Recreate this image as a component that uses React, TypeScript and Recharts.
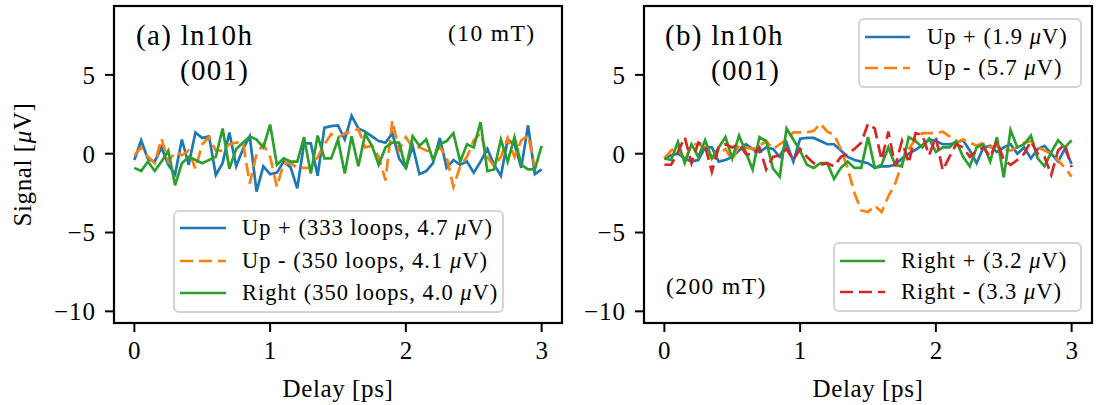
import React from 'react';
import { LineChart, Line, XAxis, YAxis, Legend } from 'recharts';

const DELAY = [0, 0.05, 0.1, 0.15, 0.2, 0.25, 0.3, 0.35, 0.4, 0.45, 0.5, 0.55, 0.6, 0.65, 0.7, 0.75, 0.8, 0.85, 0.9, 0.95, 1, 1.05, 1.1, 1.15, 1.2, 1.25, 1.3, 1.35, 1.4, 1.45, 1.5, 1.55, 1.6, 1.65, 1.7, 1.75, 1.8, 1.85, 1.9, 1.95, 2, 2.05, 2.1, 2.15, 2.2, 2.25, 2.3, 2.35, 2.4, 2.45, 2.5, 2.55, 2.6, 2.65, 2.7, 2.75, 2.8, 2.85, 2.9, 2.95, 3];

const A_UP_PLUS = [
  -0.4, 0.85, -0.35, -0.5, 0.4, -0.7, -1.3, 0.9, -0.7, 1.35,
  1.0, 1.1, -1.35, -0.6, 1.35, -0.8, 0.3, 1.1, -2.4, -0.8,
  -1.3, -1.2, -0.5, -0.85, -2.2, 0.65, 0.65, -1.4, 1.65, 1.75,
  1.8, 0.9, 2.4, 1.6, 1.4, 1.1, 0.8, 0.7, 1.3, -0.3,
  -0.9, 0.5, -1.3, -1.1, -0.6, 1.0, -0.9, -0.4, -0.7, -0.5,
  -1.2, -0.5, 0.3, -0.7, -1.4, 0.9, 0.6, -0.9, 1.8, -1.3,
  -1.0,
];
const A_UP_MINUS = [
  -0.1, 0.4, -0.2, -0.6, 0.95, -0.5, 0.1, -0.1, 0.2, -0.95,
  0.6, 1.05, 0.2, 0.2, 0.6, 0.7, 0.7, -1.9, 0.0, 0.6,
  -0.2, -2.1, -0.6, -0.6, -0.9, -0.9, -0.9, -0.2, 0.6, 1.25,
  1.0, 1.3, 1.4, 1.55, 0.4, 0.5, -0.2, -1.7, 2.1, 0.2,
  1.05, 0.4, 0.4, 0.2, 0.1, 0.4, -0.2, -2.1, -0.8, -0.2,
  0.85, 1.3, -0.2, -0.8, -0.2, 1.0, -0.2, 0.85, 1.15, -0.8,
  null,
];
const A_RIGHT = [
  -0.9, -1.1, -0.5, -1.1, -0.5, 0.2, -2.0, -0.6, -0.2, -0.4,
  -0.6, -0.4, -0.2, 1.6, -0.95, 0.3, 0.7, 1.1, 0.9, 0.4,
  1.85, -0.7, -0.3, -0.5, -0.5, 1.05, -1.25, 1.15, -0.3, -0.3,
  0.9, -1.25, 1.1, -0.8, 1.25, 0.5, -0.7, 0.4, 0.7, 0.7,
  -0.95, 1.1, 0.5, 0.9, -0.4, 0.6, 0.8, 1.3, -0.5, 0.6,
  0.4, 2.0, -1.1, -1.0, 0.9, -0.5, 1.05, -0.7, -1.0, -1.0,
  0.5,
];

const B_UP_PLUS = [
  -0.3, -0.1, 0.0, -0.3, -0.5, -0.4, 0.4, 0.4, -0.5, -0.4,
  -0.2, 0.2, 0.6, 0.3, 0.1, 0.4, 0.3, -0.2, 0.7, -0.5,
  0.95, 1.0, 1.0, 0.8, 0.6, 0.6, 0.2, -0.2, -0.4, -0.5,
  -0.6, -0.9, -0.8, -0.8, -0.7, -0.3, 0.0, 0.25, 0.55, 0.9,
  0.8, 0.6, 0.6, 0.7, 0.85, 0.2, -0.6, 0.4, 0.5, 0.1,
  0.4, 0.6, 0.0, 0.4, -0.3, 0.3, 0.5, 0.0, -0.5, 0.3,
  -0.65,
];
const B_UP_MINUS = [
  -0.3, 0.2, 0.5, -0.5, 0.6, 0.6, 0.4, -0.3, 0.0, 0.3,
  -0.4, 0.6, 0.4, 0.3, 0.5, 0.8, 0.3, 0.6, 0.9, 1.35,
  1.35, 1.35, 1.45, 1.9, 1.4, 1.2, 0.3, -0.9, -2.5, -3.6,
  -3.7, -3.3, -3.7, -2.7, -1.9, -0.6, 0.3, 0.9, 1.3, 1.3,
  1.3, 1.4, 1.1, 0.7, 0.9, 0.7, 0.5, 0.7, 0.4, 0.5,
  0.3, 0.2, 0.4, 0.7, 0.8, 0.4, 0.2, 0.0, -0.4, -0.9,
  -1.45,
];
const B_RIGHT_PLUS = [
  -0.3, -0.4, 0.75, -0.6, 0.6, -0.2, 0.85, -0.3, 0.4, 1.05,
  -0.3, 1.15, 0.1, -1.0, 1.05, 0.8, -0.95, -1.45, 1.6, 0.9,
  0.2, -0.7, -0.9, -0.6, -0.6, -1.6, -0.9, -0.5, -0.9, -0.9,
  1.05, -0.9, -0.7, 0.4, -0.7, -0.8, 1.05, 0.8, 0.4, 0.95,
  0.1, 0.4, 0.4, 0.8, -0.2, -0.8, 0.4, 0.6, -0.5, 1.05,
  -1.5, 1.5, 0.4, 0.6, 1.15, -0.3, -0.8, 0.1, 0.85, 0.4,
  0.85,
];
const B_RIGHT_MINUS = [
  -0.7, -0.7, 0.1, 1.05, -0.6, 0.7, 0.5, -1.15, 0.4, 0.6,
  0.4, 0.6, 0.0, -0.1, 0.4, -1.0, -0.2, -0.1, 0.3, -0.4,
  0.3, -0.2, -0.6, -0.7, -0.6, -0.8, -0.2, 0.0, 0.3, 0.7,
  1.9, 1.6, -0.4, 1.4, -0.8, 0.8, -0.6, 1.3, 1.2, -0.1,
  1.05, -1.05, -0.2, 0.6, 0.4, -0.2, 0.2, 0.4, -0.2, 0.8,
  -0.4, -0.7, -0.4, 0.0, 0.8, 0.0, -0.2, -1.35, 0.2, 0.6,
  -0.85,
];

const X_TICKS = [0, 1, 2, 3];
const Y_TICKS = [-10, -5, 0, 5];
const X_DOMAIN: [number, number] = [-0.15, 3.15];
const Y_DOMAIN: [number, number] = [-10.74, 9.37];

const BLUE = '#1f77b4';
const ORANGE = '#ff7f0e';
const GREEN = '#2ca02c';
const RED = '#d62728';
const DASH = '13 6';

type Series = { key: string; name: string; color: string; dash?: string; values: (number | null)[] };

const SERIES_A: Series[] = [
  { key: 'upPlus', name: 'Up + (333 loops, 4.7 μV)', color: BLUE, values: A_UP_PLUS },
  { key: 'upMinus', name: 'Up - (350 loops, 4.1 μV)', color: ORANGE, dash: DASH, values: A_UP_MINUS },
  { key: 'right', name: 'Right (350 loops, 4.0 μV)', color: GREEN, values: A_RIGHT },
];
const SERIES_B: Series[] = [
  { key: 'upPlus', name: 'Up + (1.9 μV)', color: BLUE, values: B_UP_PLUS },
  { key: 'upMinus', name: 'Up - (5.7 μV)', color: ORANGE, dash: DASH, values: B_UP_MINUS },
  { key: 'rightPlus', name: 'Right + (3.2 μV)', color: GREEN, values: B_RIGHT_PLUS },
  { key: 'rightMinus', name: 'Right - (3.3 μV)', color: RED, dash: DASH, values: B_RIGHT_MINUS },
];

const FONT = "'Liberation Serif', 'DejaVu Serif', serif";

const CHART_H = 405;
const MARGIN_TOP = 6;
const X_AXIS_H = 82;
const LAYOUT_A = { left: 0, width: 580, yAxisWidth: 114, marginRight: 18 };
const LAYOUT_B = { left: 580, width: 519, yAxisWidth: 64, marginRight: 7 };

const buildRows = (series: Series[]) =>
  DELAY.map((x, i) => {
    const r: Record<string, number | null> = { x };
    series.forEach((s) => {
      r[s.key] = s.values[i];
    });
    return r;
  });

const fmt = (v: number) => (v < 0 ? '\u2212' + Math.abs(v) : String(v));

function withMu(text: string) {
  const parts = text.split('μ');
  return parts.map((p, i) => (
    <React.Fragment key={i}>
      {i > 0 && <i>μ</i>}
      {p}
    </React.Fragment>
  ));
}

type BoxOpts = { width: number; rowH: number; padL: number; handleW: number; gap: number; padT: number; padB: number };

function makeLegend(series: Series[], keys: string[], o: BoxOpts) {
  return (props: any) => {
    const payload: any[] = props.payload || [];
    const items = keys.map((k) => {
      const meta = series.find((s) => s.key === k)!;
      const p = payload.find((e) => e.dataKey === k);
      return { meta, name: p ? p.value : meta.name, color: p ? p.color : meta.color };
    });
    return (
      <div
        style={{
          boxSizing: 'border-box',
          width: o.width,
          border: '2px solid #d4d4d4',
          borderRadius: 6,
          background: 'rgba(255,255,255,0.8)',
          paddingTop: o.padT,
          paddingBottom: o.padB,
          fontFamily: FONT,
          fontSize: 22.5,
          letterSpacing: 1,
          color: '#000',
          whiteSpace: 'nowrap',
        }}
      >
        {items.map((it) => (
          <div key={it.meta.key} style={{ height: o.rowH, display: 'flex', alignItems: 'center', paddingLeft: o.padL }}>
            <svg width={o.handleW} height={8} style={{ flex: 'none', marginRight: o.gap }}>
              <line x1={0} y1={4} x2={o.handleW} y2={4} stroke={it.color} strokeWidth={2.7} strokeDasharray={it.meta.dash} />
            </svg>
            <span style={{ lineHeight: 1 }}>{withMu(it.name)}</span>
          </div>
        ))}
      </div>
    );
  };
}

const axisStroke = { stroke: '#000', strokeWidth: 2 };

type Layout = { left: number; width: number; yAxisWidth: number; marginRight: number };
type PanelProps = { series: Series[]; layout: Layout; showYLabel: boolean; children?: React.ReactNode };

function Panel({ series, layout, showYLabel, children }: PanelProps) {
  const rows = buildRows(series);
  const { left, width, yAxisWidth, marginRight } = layout;
  return (
    <div style={{ position: 'absolute', left, top: 0, width, height: CHART_H }}>
      <LineChart width={width} height={CHART_H} data={rows} margin={{ top: MARGIN_TOP, right: marginRight, bottom: 0, left: 0 }}>
        <XAxis
          dataKey="x"
          type="number"
          domain={X_DOMAIN}
          ticks={X_TICKS}
          allowDataOverflow
          tickFormatter={fmt}
          height={X_AXIS_H}
          tickSize={9}
          tickMargin={9}
          axisLine={axisStroke}
          tickLine={axisStroke}
          tick={{ fill: '#000', fontSize: 25, fontFamily: FONT }}
          label={{
            position: 'center',
            content: (p: any) => {
              const vb = p.viewBox || {};
              return (
                <text x={vb.x + vb.width / 2} y={vb.y + 74} textAnchor="middle" fontSize={25} fontFamily={FONT} fill="#000" letterSpacing={0.6}>
                  Delay [ps]
                </text>
              );
            },
          }}
        />
        <YAxis
          type="number"
          domain={Y_DOMAIN}
          ticks={Y_TICKS}
          allowDataOverflow
          tickFormatter={fmt}
          width={yAxisWidth}
          tickSize={9}
          tickMargin={9}
          axisLine={axisStroke}
          tickLine={axisStroke}
          tick={{ fill: '#000', fontSize: 25, fontFamily: FONT, letterSpacing: 1 }}
          label={
            showYLabel
              ? {
                  position: 'center',
                  content: (p: any) => {
                    const vb = p.viewBox || {};
                    const cx = vb.x + 22;
                    const cy = vb.y + vb.height / 2;
                    return (
                      <text
                        x={cx}
                        y={cy}
                        transform={`rotate(-90, ${cx}, ${cy})`}
                        textAnchor="middle"
                        dominantBaseline="central"
                        fontSize={25}
                        fontFamily={FONT}
                        fill="#000"
                        letterSpacing={0.6}
                      >
                        Signal [<tspan fontStyle="italic">μ</tspan>V]
                      </text>
                    );
                  },
                }
              : undefined
          }
        />
        {series.map((s) => (
          <Line
            key={s.key}
            dataKey={s.key}
            name={s.name}
            type="linear"
            stroke={s.color}
            strokeWidth={2.7}
            strokeDasharray={s.dash}
            dot={false}
            activeDot={false}
            isAnimationActive={false}
          />
        ))}
        {children}
      </LineChart>
    </div>
  );
}

function frameRect(l: Layout) {
  return {
    x: l.left + l.yAxisWidth,
    y: MARGIN_TOP,
    width: l.width - l.yAxisWidth - l.marginRight,
    height: CHART_H - MARGIN_TOP - X_AXIS_H,
  };
}

const annot = { fontFamily: FONT, fill: '#000' };

export default function App() {
  return (
    <div style={{ position: 'absolute', left: 0, top: 0, width: 1099, height: 405, background: '#fff', fontFamily: FONT }}>
      <Panel series={SERIES_A} layout={LAYOUT_A} showYLabel>
        <Legend
          layout="vertical"
          align="center"
          verticalAlign="middle"
          wrapperStyle={{ left: 173, top: 210, width: 'auto', height: 'auto' }}
          content={makeLegend(SERIES_A, ['upPlus', 'upMinus', 'right'], { width: 331, rowH: 32.5, padL: 5, handleW: 46, gap: 16, padT: 0, padB: 1.5 })}
        />
      </Panel>
      <Panel series={SERIES_B} layout={LAYOUT_B} showYLabel={false}>
        <Legend
          layout="vertical"
          align="center"
          verticalAlign="middle"
          wrapperStyle={{ left: 278, top: 18, width: 'auto', height: 'auto' }}
          content={makeLegend(SERIES_B, ['upPlus', 'upMinus'], { width: 224, rowH: 31, padL: 5, handleW: 45, gap: 17, padT: 1.5, padB: 2.5 })}
        />
        <Legend
          layout="vertical"
          align="center"
          verticalAlign="middle"
          wrapperStyle={{ left: 253, top: 242, width: 'auto', height: 'auto' }}
          content={makeLegend(SERIES_B, ['rightPlus', 'rightMinus'], { width: 249, rowH: 31, padL: 5, handleW: 45, gap: 16, padT: 1.5, padB: 2.5 })}
        />
      </Panel>
      <svg width={1099} height={405} style={{ position: 'absolute', left: 0, top: 0, pointerEvents: 'none', zIndex: 5 }}>
        <rect {...frameRect(LAYOUT_A)} fill="none" stroke="#000000" strokeWidth={2.2} />
        <rect {...frameRect(LAYOUT_B)} fill="none" stroke="#000000" strokeWidth={2.2} />
        <text x={136} y={45} fontSize={29} letterSpacing={1.3} {...annot}>(a) ln10h</text>
        <text x={180} y={80} fontSize={29} letterSpacing={1.3} {...annot}>(001)</text>
        <text x={448} y={40.5} fontSize={23.5} letterSpacing={1.4} {...annot}>(10 mT)</text>
        <text x={665} y={45} fontSize={29} letterSpacing={1.3} {...annot}>(b) ln10h</text>
        <text x={711} y={80} fontSize={29} letterSpacing={1.3} {...annot}>(001)</text>
        <text x={666} y={294} fontSize={23.5} letterSpacing={1.4} {...annot}>(200 mT)</text>
      </svg>
    </div>
  );
}
